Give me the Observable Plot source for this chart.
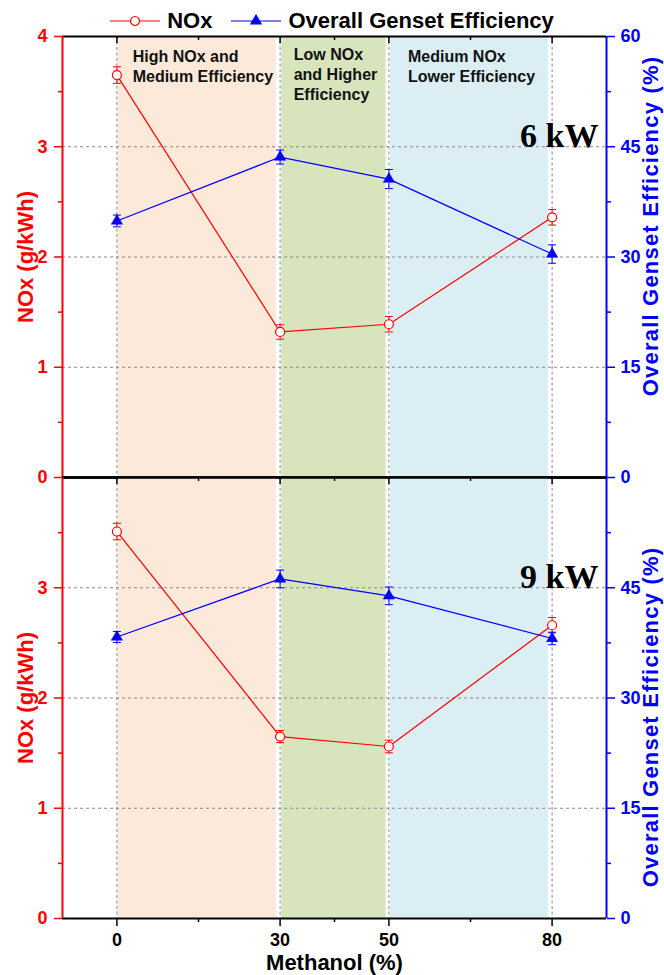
<!DOCTYPE html>
<html>
<head>
<meta charset="utf-8">
<script src="https://cdn.jsdelivr.net/npm/d3@7"></script>
<script src="https://cdn.jsdelivr.net/npm/@observablehq/plot@0.6"></script>
<style>
  body { margin: 0; background: #fff; }
  #chart { position: relative; width: 664px; height: 975px; font-family: "Liberation Sans", Arial, sans-serif; }
  #chart svg.panel { position: absolute; left: 0; }
  #legend { position: absolute; top: 8px; left: 0; width: 664px; height: 26px; display: flex;
            justify-content: center; align-items: flex-start; font-size: 22px; font-weight: bold;
            line-height: 26px; color: #000; }
  #legend .item { display: flex; align-items: flex-start; }
  #legend .item + .item { margin-left: 19px; }
  #legend svg { margin-right: 7px; }
</style>
</head>
<body>
<div id="chart"><div id="legend"></div></div>
<script>
// Methanol substitution levels and axis ticks
const methanol = [0, 30, 50, 80];
const methanolRange = [-10, 90];
const methanolMinorTicks = [15, 40, 65];
const noxRange = [0, 4];
const noxTicks = [0, 1, 2, 3, 4];
const noxMinorTicks = [0.5, 1.5, 2.5, 3.5];
const effRange = [0, 60];
const effTicks = [0, 15, 30, 45, 60];
const gridLevels = [1, 2, 3];

// 6 kW load
const nox6kW = [3.65, 1.32, 1.39, 2.36];
const nox6kWErr = [0.075, 0.065, 0.07, 0.07];
const eff6kW = [34.9, 43.6, 40.6, 30.4];
const eff6kWErr = [0.8, 0.95, 1.3, 1.25];

// 9 kW load
const nox9kW = [3.51, 1.65, 1.56, 2.66];
const nox9kWErr = [0.075, 0.055, 0.057, 0.07];
const eff9kW = [38.3, 46.2, 43.9, 38.1];
const eff9kWErr = [0.75, 1.2, 1.2, 0.85];

// Shaded operating regions
const regionLabels = ["High NOx and\nMedium Efficiency", "Low NOx\nand Higher\nEfficiency", "Medium NOx\nLower Efficiency"];
const regionStart = [0.2, 30.3, 50.3];
const regionEnd = [29.3, 49.5, 79.3];
const regionColors = ["#fde9d9", "#d8e4bc", "#daeef3"];
const regionLabelX = [2.9, 32.5, 53.5];
const regionLabelY = [3.9, 3.92, 3.9];

const seriesNames = ["NOx", "Overall Genset Efficiency"];
const noxTitle = "NOx (g/kWh)";
const effTitle = "Overall Genset Efficiency (%)";
const xTitle = "Methanol (%)";
const RED = "#ff0000", BLUE = "#0000ff", GRID = "#8a8a8a";
const FONT = "Liberation Sans, Arial, sans-serif";

// efficiency shares the NOx y scale: 60 % sits where 4 g/kWh sits
const effPerNox = effRange[1] / noxRange[1];

const regions = regionLabels.map((label, i) => ({
  label, start: regionStart[i], end: regionEnd[i], color: regionColors[i],
  lx: regionLabelX[i], ly: regionLabelY[i]
}));

// horizontal error-bar cap
const capSymbol = {
  draw(context, size) {
    const r = Math.sqrt(size / Math.PI);
    context.moveTo(-r, 0);
    context.lineTo(r, 0);
  }
};

const FRAME_H = 441;
const intFormat = d3.format("d");

function panel({load, nox, noxErr, eff, effErr, first}) {
  const rows = methanol.map((m, i) => ({
    m,
    nox: nox[i], noxLo: nox[i] - noxErr[i], noxHi: nox[i] + noxErr[i],
    eff: eff[i] / effPerNox,
    effLo: (eff[i] - effErr[i]) / effPerNox,
    effHi: (eff[i] + effErr[i]) / effPerNox
  }));
  // the lower panel leaves its top labels to the panel above
  const majorTicks = first ? noxTicks : noxTicks.slice(0, -1);
  const bold = {fontWeight: "bold", fontFamily: FONT};

  const marks = [
    // shaded regions
    Plot.rect(regions, {x1: "start", x2: "end", fill: "color"}),
    // dashed grid
    Plot.ruleY(gridLevels, {stroke: GRID, strokeDasharray: "3,3", strokeWidth: 1}),
    Plot.ruleX(methanol, {stroke: GRID, strokeDasharray: "3,2.5", strokeWidth: 1}),
    // series lines
    Plot.line(rows, {x: "m", y: "nox", stroke: RED, strokeWidth: 1.2}),
    Plot.line(rows, {x: "m", y: "eff", stroke: BLUE, strokeWidth: 1.2}),
    // error bars
    Plot.ruleX(rows, {x: "m", y1: "noxLo", y2: "noxHi", stroke: RED, strokeWidth: 1}),
    Plot.dot(rows, {x: "m", y: "noxLo", symbol: capSymbol, r: 4, stroke: RED, fill: "none", strokeWidth: 1}),
    Plot.dot(rows, {x: "m", y: "noxHi", symbol: capSymbol, r: 4, stroke: RED, fill: "none", strokeWidth: 1}),
    Plot.ruleX(rows, {x: "m", y1: "effLo", y2: "effHi", stroke: BLUE, strokeWidth: 1}),
    Plot.dot(rows, {x: "m", y: "effLo", symbol: capSymbol, r: 4, stroke: BLUE, fill: "none", strokeWidth: 1}),
    Plot.dot(rows, {x: "m", y: "effHi", symbol: capSymbol, r: 4, stroke: BLUE, fill: "none", strokeWidth: 1}),
    // markers
    Plot.dot(rows, {x: "m", y: "nox", r: 4.5, fill: "white", stroke: RED, strokeWidth: 1.2}),
    Plot.dot(rows, {x: "m", y: "eff", symbol: "triangle", r: 4.2, fill: BLUE, stroke: BLUE, strokeWidth: 0.5}),
    // inward ticks hanging from the upper edge of the frame
    Plot.tickX(methanol, {stroke: "black", strokeWidth: 1.5, insetBottom: FRAME_H - 7}),
    Plot.tickX(methanolMinorTicks, {stroke: "black", strokeWidth: 1.5, insetBottom: FRAME_H - 4}),
    // frame edges
    Plot.ruleY([noxRange[1]], {stroke: "black", strokeWidth: first ? 2 : 2.5}),
    Plot.ruleY([noxRange[0]], {stroke: "black", strokeWidth: first ? 2.5 : 2}),
    Plot.ruleX([methanolRange[0]], {stroke: RED, strokeWidth: 2}),
    Plot.ruleX([methanolRange[1]], {stroke: BLUE, strokeWidth: 2}),
    // left NOx axis
    Plot.axisY(majorTicks, {anchor: "left", tickSize: 8, tickPadding: 7, color: RED, strokeWidth: 1.5,
      fontSize: 18, ...bold, label: null, tickFormat: intFormat}),
    Plot.axisY(noxMinorTicks, {anchor: "left", tickSize: 4, color: RED, strokeWidth: 1.5,
      tickFormat: () => "", label: null}),
    // right efficiency axis
    Plot.axisY(majorTicks, {anchor: "right", tickSize: 8, tickPadding: 6, color: BLUE, strokeWidth: 1.5,
      fontSize: 18, ...bold, label: null, tickFormat: (d) => effTicks[noxTicks.indexOf(d)]}),
    Plot.axisY(noxMinorTicks, {anchor: "right", tickSize: 4, color: BLUE, strokeWidth: 1.5,
      tickFormat: () => "", label: null}),
    // axis titles
    Plot.text([noxTitle], {frameAnchor: "left", textAnchor: "middle", dx: -37, rotate: -90,
      fill: RED, fontSize: 22, ...bold}),
    Plot.text([effTitle], {frameAnchor: "right", textAnchor: "middle", dx: 44,
      dy: first ? -31 : 19, rotate: -90, fill: BLUE, fontSize: 22, ...bold}),
    // load label
    Plot.text([load], {frameAnchor: "right", y: () => 3, dx: -8, textAnchor: "end", lineAnchor: "bottom",
      fontSize: 34, fontWeight: "bold", fontFamily: "Liberation Serif, Times New Roman, serif", fill: "black"})
  ];

  if (first) {
    marks.push(Plot.text(regions, {x: "lx", y: "ly", text: "label", textAnchor: "start", lineAnchor: "top",
      lineHeight: 1.25, fontSize: 16, ...bold, fill: "#111"}));
  } else {
    marks.push(
      Plot.axisX(methanol, {anchor: "bottom", tickSize: 8, tickPadding: 7, color: "black", strokeWidth: 1.5,
        fontSize: 18, ...bold, label: null, tickFormat: intFormat}),
      Plot.axisX(methanolMinorTicks, {anchor: "bottom", tickSize: 4, color: "black", strokeWidth: 1.5,
        tickFormat: () => "", label: null}),
      Plot.text([xTitle], {frameAnchor: "bottom", textAnchor: "middle", dy: 51, lineAnchor: "bottom",
        fontSize: 22, ...bold, fill: "black"})
    );
  }

  const svg = Plot.plot({
    width: 664,
    height: first ? 487 : 508,
    marginLeft: 62,
    marginRight: 58,
    marginTop: first ? 36 : 10,
    marginBottom: first ? 10 : 57,
    x: {domain: methanolRange, axis: null, label: null},
    y: {domain: noxRange, axis: null, label: null},
    style: {background: "transparent", overflow: "visible", fontFamily: FONT},
    marks
  });
  // the efficiency title is set tracked out
  d3.select(svg).selectAll("text")
    .filter(function () { return this.textContent === effTitle; })
    .attr("letter-spacing", "1.2");
  svg.classList.add("panel");
  svg.style.top = first ? "0px" : "467px";
  return svg;
}

const chart = document.getElementById("chart");
chart.appendChild(panel({load: "6 kW", nox: nox6kW, noxErr: nox6kWErr, eff: eff6kW, effErr: eff6kWErr, first: true}));
chart.appendChild(panel({load: "9 kW", nox: nox9kW, noxErr: nox9kWErr, eff: eff9kW, effErr: eff9kWErr, first: false}));

// legend: line-and-marker swatches followed by the series names
const legend = d3.select("#legend");
const swatches = [
  {name: seriesNames[0], color: RED, symbol: d3.symbolCircle, filled: false},
  {name: seriesNames[1], color: BLUE, symbol: d3.symbolTriangle, filled: true}
];
for (const s of swatches) {
  const item = legend.append("div").attr("class", "item");
  const sw = item.append("svg").attr("width", 50).attr("height", 26);
  sw.append("line").attr("x1", 0).attr("x2", 50).attr("y1", 13).attr("y2", 13)
    .attr("stroke", s.color).attr("stroke-width", 1.2);
  sw.append("path").attr("transform", "translate(25,13)")
    .attr("d", d3.symbol(s.symbol, s.filled ? 45 : 64)())
    .attr("fill", s.filled ? s.color : "white").attr("stroke", s.color).attr("stroke-width", 1.2);
  item.append("span").text(s.name);
}
</script>
</body>
</html>
